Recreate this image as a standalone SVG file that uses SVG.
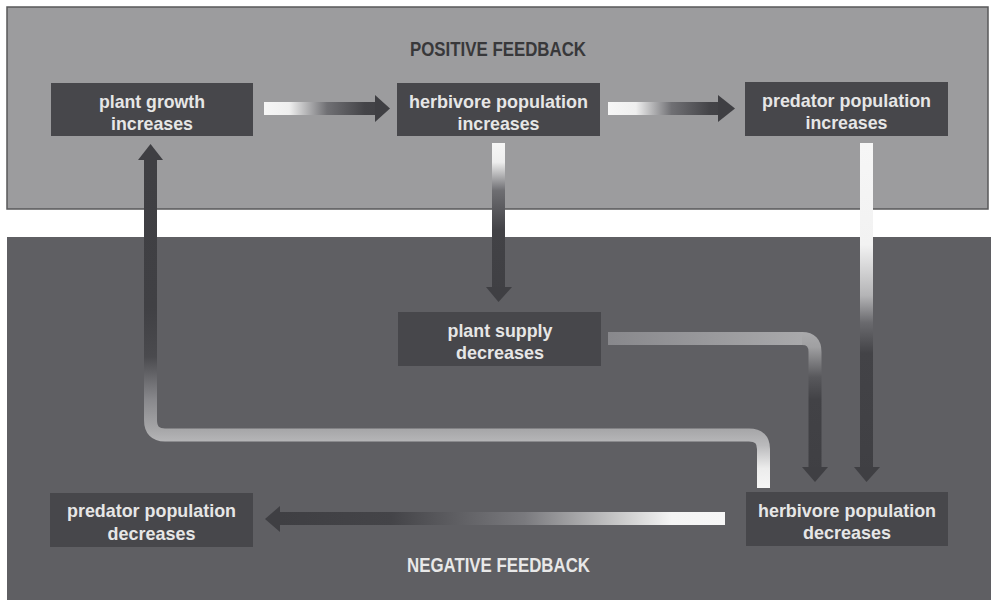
<svg xmlns="http://www.w3.org/2000/svg" width="991" height="600" viewBox="0 0 991 600">
<style>
.box{fill:#47474b}
.bt{font-family:"Liberation Sans",Arial,sans-serif;font-weight:bold;font-size:19px;fill:#e6e6e6;text-anchor:middle}
.title{font-family:"Liberation Sans",Arial,sans-serif;font-weight:bold;font-size:21px;text-anchor:middle}
.head{fill:#3f3f43}
</style>
<defs>
<linearGradient id="gh1" gradientUnits="userSpaceOnUse" x1="264" y1="0" x2="390" y2="0">
<stop offset="0" stop-color="#f6f6f6"/><stop offset="0.2" stop-color="#efefef"/><stop offset="0.5" stop-color="#707074"/><stop offset="0.8" stop-color="#444448"/><stop offset="1" stop-color="#3f3f43"/>
</linearGradient>
<linearGradient id="gh2" gradientUnits="userSpaceOnUse" x1="608" y1="0" x2="735" y2="0">
<stop offset="0" stop-color="#f6f6f6"/><stop offset="0.22" stop-color="#efefef"/><stop offset="0.5" stop-color="#707074"/><stop offset="0.8" stop-color="#444448"/><stop offset="1" stop-color="#3f3f43"/>
</linearGradient>
<linearGradient id="gv3" gradientUnits="userSpaceOnUse" x1="0" y1="143" x2="0" y2="302">
<stop offset="0" stop-color="#f6f6f6"/><stop offset="0.12" stop-color="#eeeeee"/><stop offset="0.3" stop-color="#6e6e72"/><stop offset="0.55" stop-color="#424246"/><stop offset="1" stop-color="#3f3f43"/>
</linearGradient>
<linearGradient id="gv4" gradientUnits="userSpaceOnUse" x1="0" y1="143" x2="0" y2="482">
<stop offset="0" stop-color="#f6f6f6"/><stop offset="0.3" stop-color="#f2f2f2"/><stop offset="0.45" stop-color="#b4b4b6"/><stop offset="0.53" stop-color="#6a6a6e"/><stop offset="0.62" stop-color="#434347"/><stop offset="1" stop-color="#3f3f43"/>
</linearGradient>
<linearGradient id="gh5" gradientUnits="userSpaceOnUse" x1="608" y1="0" x2="808" y2="0">
<stop offset="0" stop-color="#88888c"/><stop offset="1" stop-color="#aaaaac"/>
</linearGradient>
<linearGradient id="gv5" gradientUnits="userSpaceOnUse" x1="0" y1="332" x2="0" y2="482">
<stop offset="0" stop-color="#aaaaac"/><stop offset="0.1" stop-color="#a0a0a2"/><stop offset="0.3" stop-color="#58585c"/><stop offset="0.45" stop-color="#424246"/><stop offset="1" stop-color="#3f3f43"/>
</linearGradient>
<linearGradient id="gv6" gradientUnits="userSpaceOnUse" x1="0" y1="488" x2="0" y2="160">
<stop offset="0" stop-color="#f6f6f6"/><stop offset="0.06" stop-color="#ececec"/><stop offset="0.13" stop-color="#bababc"/><stop offset="0.18" stop-color="#a6a6a8"/><stop offset="0.27" stop-color="#88888c"/><stop offset="0.4" stop-color="#4a4a4e"/><stop offset="0.55" stop-color="#404044"/><stop offset="1" stop-color="#3f3f43"/>
</linearGradient>
<linearGradient id="gh7" gradientUnits="userSpaceOnUse" x1="280" y1="0" x2="725" y2="0">
<stop offset="0" stop-color="#3f3f43"/><stop offset="0.25" stop-color="#444448"/><stop offset="0.55" stop-color="#7a7a7e"/><stop offset="0.78" stop-color="#cfcfcf"/><stop offset="0.88" stop-color="#f4f4f4"/><stop offset="1" stop-color="#f6f6f6"/>
</linearGradient>
</defs>
<rect width="991" height="600" fill="#ffffff"/>
<rect x="7" y="7" width="981" height="202" fill="#9c9c9e" stroke="#58585a" stroke-width="1.5"/>
<rect x="7" y="237" width="984" height="363" fill="#5f5f63"/>
<text class="title" x="498" y="56" fill="#38383a" textLength="176" lengthAdjust="spacingAndGlyphs">POSITIVE FEEDBACK</text>
<text class="title" x="498.5" y="572" fill="#e8e8e8" textLength="183" lengthAdjust="spacingAndGlyphs">NEGATIVE FEEDBACK</text>
<g id="connectors">
<rect x="264" y="102" width="112" height="13" fill="url(#gh1)"/>
<polygon class="head" points="375,95 390,108.5 375,122"/>
<rect x="608" y="102" width="111" height="13" fill="url(#gh2)"/>
<polygon class="head" points="718,95 735,108.5 718,122"/>
<rect x="492" y="143" width="13" height="145" fill="url(#gv3)"/>
<polygon class="head" points="486,287 512,287 498.5,302"/>
<rect x="860" y="143" width="13" height="325" fill="url(#gv4)"/>
<polygon class="head" points="854,467 880,467 866.5,482"/>
<rect x="608" y="332" width="195" height="13" fill="url(#gh5)"/>
<path d="M802,338.5 Q815,338.5 815,352 V468" fill="none" stroke="url(#gv5)" stroke-width="13"/>
<polygon class="head" points="802,467 828,467 815,482"/>
<path d="M763.5,488 V449 Q763.5,435 749,435 H165 Q150.5,435 150.5,420 V159" fill="none" stroke="url(#gv6)" stroke-width="13"/>
<polygon class="head" points="138,160 163,160 150.5,144"/>
<rect x="279" y="512" width="446" height="13" fill="url(#gh7)"/>
<polygon class="head" points="280,506 280,532 265,519"/>
</g>
<g id="plant-growth-increases">
<rect class="box" x="51" y="83" width="202" height="53"/>
<text class="bt" x="152" y="108" textLength="106" lengthAdjust="spacingAndGlyphs">plant growth</text>
<text class="bt" x="152" y="130" textLength="82" lengthAdjust="spacingAndGlyphs">increases</text>
</g>
<g id="herbivore-population-increases">
<rect class="box" x="397" y="83" width="203" height="53"/>
<text class="bt" x="498.5" y="108" textLength="179" lengthAdjust="spacingAndGlyphs">herbivore population</text>
<text class="bt" x="498.5" y="130" textLength="82" lengthAdjust="spacingAndGlyphs">increases</text>
</g>
<g id="predator-population-increases">
<rect class="box" x="745" y="82" width="203" height="54"/>
<text class="bt" x="846.5" y="107" textLength="169" lengthAdjust="spacingAndGlyphs">predator population</text>
<text class="bt" x="846.5" y="129" textLength="82" lengthAdjust="spacingAndGlyphs">increases</text>
</g>
<g id="plant-supply-decreases">
<rect class="box" x="398" y="312" width="203" height="54"/>
<text class="bt" x="500" y="337" textLength="105" lengthAdjust="spacingAndGlyphs">plant supply</text>
<text class="bt" x="500" y="359" textLength="88" lengthAdjust="spacingAndGlyphs">decreases</text>
</g>
<g id="herbivore-population-decreases">
<rect class="box" x="746" y="492" width="202" height="54"/>
<text class="bt" x="847" y="517" textLength="178" lengthAdjust="spacingAndGlyphs">herbivore population</text>
<text class="bt" x="847" y="539" textLength="88" lengthAdjust="spacingAndGlyphs">decreases</text>
</g>
<g id="predator-population-decreases">
<rect class="box" x="50" y="493" width="203" height="54"/>
<text class="bt" x="151.5" y="517" textLength="169" lengthAdjust="spacingAndGlyphs">predator population</text>
<text class="bt" x="151.5" y="540" textLength="88" lengthAdjust="spacingAndGlyphs">decreases</text>
</g>
</svg>
